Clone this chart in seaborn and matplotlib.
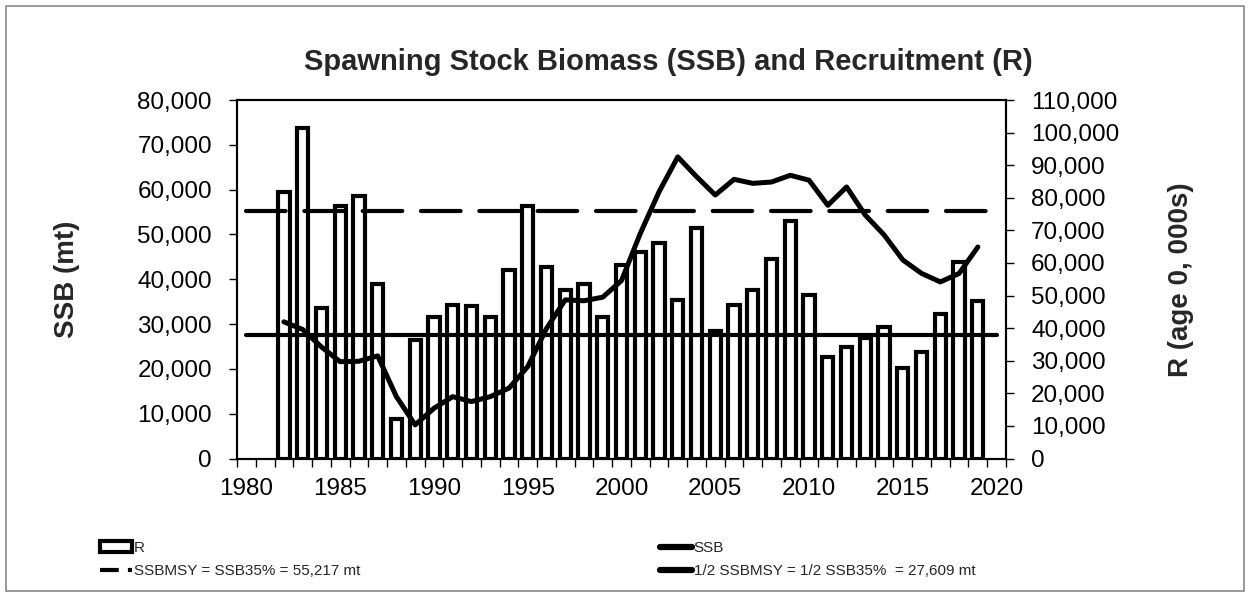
import numpy as np
import pandas as pd
import seaborn as sns
import matplotlib.pyplot as plt
from matplotlib.patches import Patch, Rectangle
from matplotlib.lines import Line2D
from matplotlib.ticker import FuncFormatter

# values
years = list(range(1982, 2020))
recruits = [81900, 101500, 46200, 77400, 80500, 53400, 12000, 36400, 43400, 47200,
            46700, 43400, 57800, 77600, 58800, 51600, 53600, 43400, 59300, 63300,
            66200, 48500, 70600, 39200, 47200, 51600, 61300, 72900, 50100, 31000,
            34100, 36900, 40500, 27900, 32600, 44300, 60300, 48200]
ssb = [30500, 28800, 24900, 21600, 21700, 22900, 13800, 7500, 11200, 13800,
       12700, 13800, 15700, 20500, 29000, 35400, 35200, 36000, 39700, 50200,
       59500, 67300, 62900, 58800, 62300, 61400, 61700, 63200, 62100, 56500,
       60600, 54300, 49900, 44300, 41300, 39400, 41300, 47200]
ref_years = [1980, 2020]
ssb_msy = 55217
half_ssb_msy = 27609
label_years = list(range(1980, 2021, 5))

df = pd.DataFrame({"Year": years, "R": recruits, "SSB": ssb})

sns.set_theme(style="white")
plt.rcParams['font.family'] = ['Liberation Sans', 'DejaVu Sans']

fig = plt.figure(figsize=(12.5, 5.97), dpi=100)
ax = fig.add_axes([237 / 1250, 1 - 458.5 / 597, 769 / 1250, 358.5 / 597])
ax2 = ax.twinx()

# bars on the right axis, lines on the left axis drawn on top
sns.barplot(data=df, x="Year", y="R", ax=ax2, native_scale=True, width=0.6,
            color="white", edgecolor="black", linewidth=3, saturation=1, errorbar=None)
sns.lineplot(data=df, x="Year", y="SSB", ax=ax, color="black", linewidth=3.6)
ax.plot(ref_years, [ssb_msy, ssb_msy], color="black", lw=3, dashes=(9.5, 4.5),
        solid_capstyle="round", dash_capstyle="round")
ax.plot(ref_years, [half_ssb_msy, half_ssb_msy], color="black", lw=3,
        solid_capstyle="round")
ax.set_zorder(ax2.get_zorder() + 1)
ax.patch.set_visible(False)

ax.set_xlim(1979.5, 2020.5)
ax.set_ylim(0, 80000)
ax2.set_ylim(0, 110000)
ax.set_yticks(np.arange(0, 80001, 10000))
ax2.set_yticks(np.arange(0, 110001, 10000))
fmt = FuncFormatter(lambda v, p: f"{v:,.0f}")
ax.yaxis.set_major_formatter(fmt)
ax2.yaxis.set_major_formatter(fmt)
ax.set_xticks(label_years)
ax.set_xticks(np.arange(1979.5, 2021, 1), minor=True)

ax.tick_params(axis="x", which="major", length=0, pad=14, labelsize=17.5, colors="black")
ax.tick_params(axis="x", which="minor", bottom=True, length=5.5, width=1, color="black")
ax.tick_params(axis="y", left=True, length=6, width=1, pad=12, labelsize=17.5, colors="black")
ax2.tick_params(axis="y", right=True, length=6, width=1, pad=12, labelsize=17.5, colors="black")

for a in (ax, ax2):
    for s in a.spines.values():
        s.set_color("black")
        s.set_linewidth(1.5)

ax.set_xlabel("")
ax.set_ylabel("SSB (mt)", fontsize=20, fontweight="bold")
ax.yaxis.set_label_coords((80 - 237) / 769, 0.5)
ax2.set_ylabel("R (age 0, 000s)", fontsize=20, fontweight="bold")
ax2.yaxis.set_label_coords((1168 - 237) / 769, 0.5)

fig.text(668 / 1250, 1 - 62 / 597, "Spawning Stock Biomass (SSB) and Recruitment (R)",
         ha="center", va="center", fontsize=21, fontweight="bold")

# legend in two blocks under the chart
h_r = Patch(facecolor="white", edgecolor="black", linewidth=3, label="R")
h_ssb = Line2D([], [], color="black", lw=4.5, solid_capstyle="round", label="SSB")
h_msy = Line2D([], [], color="black", lw=3, dashes=(4.5, 2.2), label="SSBMSY = SSB35% = 55,217 mt")
h_half = Line2D([], [], color="black", lw=4.5, solid_capstyle="round",
                label="1/2 SSBMSY = 1/2 SSB35%  = 27,609 mt")
leg_font = {"family": ["Liberation Sans", "DejaVu Sans"], "size": 11}
for hs, x0 in (([h_r, h_msy], 100), ([h_ssb, h_half], 660)):
    fig.legend(handles=hs, loc="upper left", bbox_to_anchor=(x0 / 1250, 1 - 541 / 597),
               frameon=False, borderaxespad=0, borderpad=0, prop=leg_font,
               handlelength=2.1, handletextpad=0.1, labelspacing=0.6)

fig.patches.append(Rectangle((6 / 1250, 6 / 597), 1238 / 1250, 585 / 597,
                             transform=fig.transFigure, fill=False,
                             edgecolor="#888888", linewidth=1.2))

fig.savefig("out.png", dpi=100)
